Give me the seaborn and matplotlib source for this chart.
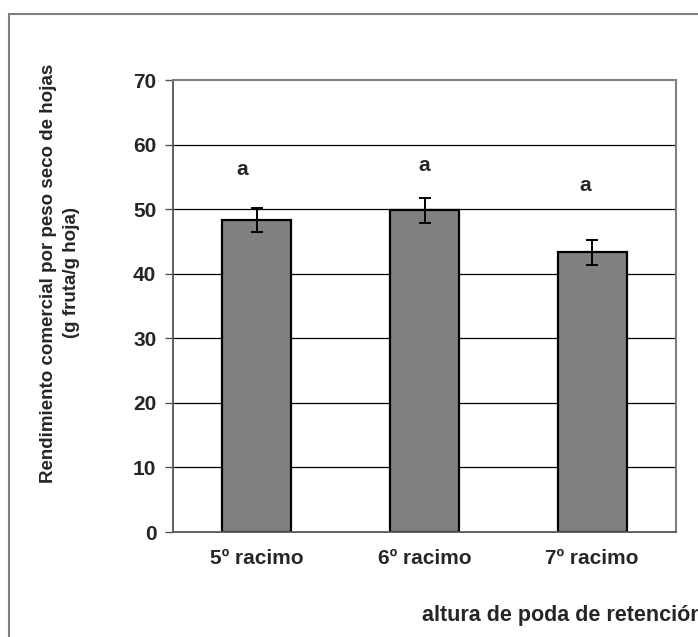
import pandas as pd
import matplotlib.pyplot as plt
import seaborn as sns
from matplotlib.patches import Rectangle

# datos
categorias = ['5º racimo', '6º racimo', '7º racimo']
rendimiento = [48.3, 49.8, 43.3]
error = [1.9, 1.9, 1.9]
letras = ['a', 'a', 'a']
letras_y = [56.1, 56.8, 53.7]
letras_dx = [-0.09, 0.0, -0.04]
y_ticks = [0, 10, 20, 30, 40, 50, 60, 70]

sns.set_style('white')
plt.rcParams['font.family'] = ['Liberation Sans', 'DejaVu Sans']
plt.rcParams['font.weight'] = 'bold'

df = pd.DataFrame({'cat': categorias, 'val': rendimiento})

fig = plt.figure(figsize=(6.98, 6.37), dpi=100)
ax = fig.add_axes([173 / 698, 1 - 532 / 637, 503 / 698, 452 / 637])

# marco exterior del grafico
fig.patches.append(Rectangle((9 / 698, -0.1), 1.2, 1 - 14 / 637 + 0.1,
                             transform=fig.transFigure, fill=False,
                             edgecolor='#808080', linewidth=1.5))

for v in y_ticks[1:-1]:
    ax.axhline(v, color='black', linewidth=0.9, zorder=0)

sns.barplot(ax=ax, data=df, x='cat', y='val', color='#808080', saturation=1,
            width=0.41, edgecolor='black', linewidth=1.6, zorder=2)
ax.errorbar(range(len(categorias)), rendimiento, yerr=error, fmt='none',
            ecolor='black', elinewidth=1.4, capsize=4, capthick=1.4, zorder=3)

for i, (t, ty, dx) in enumerate(zip(letras, letras_y, letras_dx)):
    ax.text(i + dx, ty, t, ha='center', va='center', fontsize=15, fontweight='bold')

ax.set_ylim(0, 70)
ax.set_xlim(-0.5, 2.5)
ax.set_yticks(y_ticks)
ax.set_yticklabels([str(v) for v in y_ticks], fontsize=15, fontweight='bold')
ax.set_xticks(range(len(categorias)))
ax.set_xticklabels(categorias, fontsize=15, fontweight='bold')
ax.set_xticks([-0.5, 0.5, 1.5, 2.5], minor=True)
ax.tick_params(axis='x', which='major', length=0, pad=12)
ax.tick_params(axis='x', which='minor', length=5, width=1, color='#555555', direction='out')
ax.tick_params(axis='y', length=6, width=1, color='#555555', direction='out', left=True, pad=6)
ax.set_xlabel('')
ax.set_ylabel('')

for s in ['left', 'bottom']:
    ax.spines[s].set_color('#555555')
    ax.spines[s].set_linewidth(1.3)
for s in ['top', 'right']:
    ax.spines[s].set_color('#808080')
    ax.spines[s].set_linewidth(1.5)

fig.text(60 / 698, 1 - 273 / 637,
         'Rendimiento comercial por peso seco de hojas\n(g fruta/g hoja)',
         rotation=90, ha='center', va='center', multialignment='center',
         fontsize=13.5, fontweight='bold', linespacing=1.5)
fig.text(422 / 698, 1 - 615 / 637, 'altura de poda de retención',
         ha='left', va='center', fontsize=15.5, fontweight='bold')

plt.savefig('out.png', dpi=100)
plt.close()
